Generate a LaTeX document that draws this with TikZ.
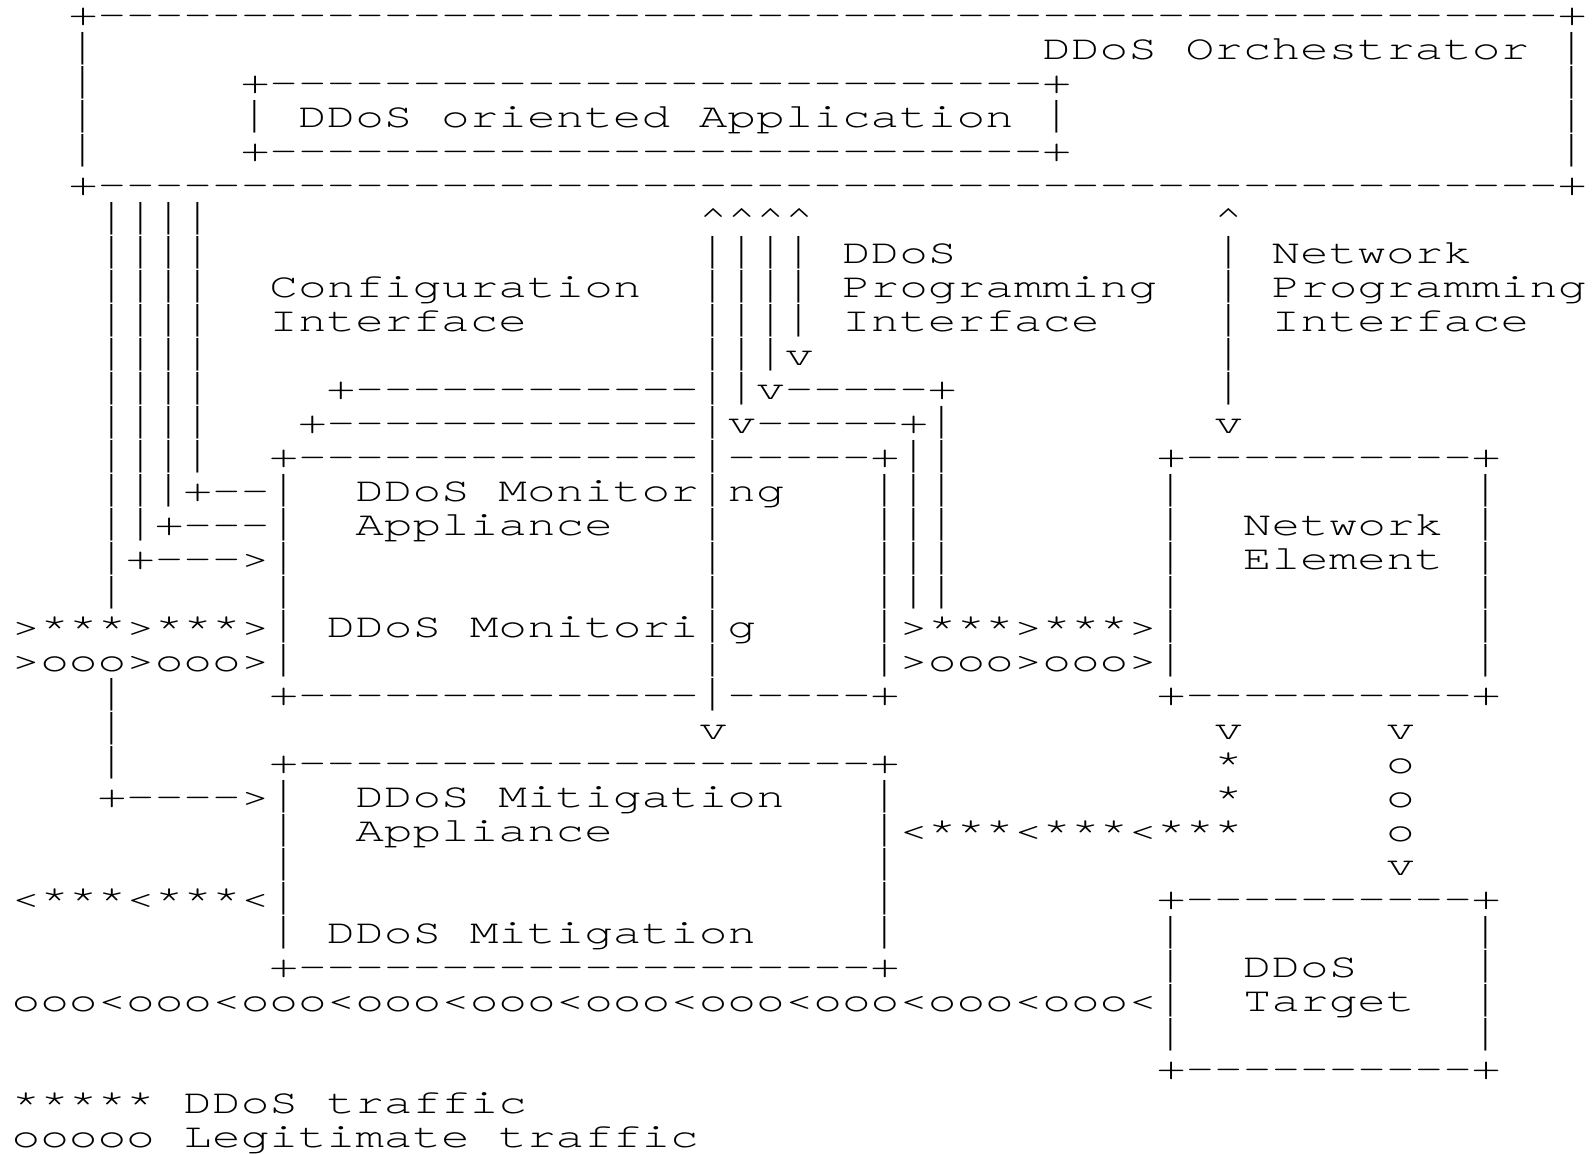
\documentclass[tikz,border=0pt]{standalone}
\usepackage{graphicx}
\usepackage{fontspec}
\newfontfamily\asc{texgyrecursor-regular}[Extension=.otf,Ligatures={TeXOff,CommonOff}]
\ExplSyntaxOn
\tl_new:N \g_asrow_tl
\NewDocumentCommand\asDash{m}{\prg_replicate:nn{#1}{-}}
\NewDocumentCommand\asSpace{m}{\prg_replicate:nn{#1}{\hphantom{-}}}
\cs_new_protected:Npn \asBar {
  \hbox_set:Nn \l_tmpa_box {|}
  \fp_set:Nn \l_tmpa_fp { 45.26pt / ( \box_ht:N \l_tmpa_box + \box_dp:N \l_tmpa_box ) }
  \dim_set:Nn \l_tmpa_dim { \fp_to_dim:n { \l_tmpa_fp * \box_dp:N \l_tmpa_box } - 8.06pt }
  \tl_set:Nx \l_tmpb_tl { \fp_to_decimal:N \l_tmpa_fp }
  \raisebox{\l_tmpa_dim}{\scalebox{1}[\l_tmpb_tl]{|}}
}
\NewDocumentCommand\asfix{m}{
  \tl_gset:Nn \g_asrow_tl {#1}
  \tl_greplace_all:Nnn \g_asrow_tl {|} {\asBar}
}
\cs_new:Npn \asrowtext {\g_asrow_tl}
\ExplSyntaxOff
\newcommand\Up{\char"5E\relax}
\tikzset{
  asline/.style={anchor=base west, inner sep=0pt, outer sep=0pt,
    font=\asc\fontsize{47.72}{47.72}\selectfont}
}
\newcommand\asrow[3]{\asfix{#3}\node[asline] (#1) at (11.7,{25.5+34.0*#2}) {\scalebox{1}[0.72]{\asrowtext}};}
\begin{document}
\begin{tikzpicture}[x=1pt,y=-1pt]
\fill[white] (0,0) rectangle (1596,1154);
\useasboundingbox (0,0) rectangle (1596,1154);
\asrow{r0}{0}{\asSpace{2}+\asDash{51}+}
\asrow{r1}{1}{\asSpace{2}|\asSpace{33}DDoS Orchestrator\asSpace{1}|}
\asrow{r2}{2}{\asSpace{2}|\asSpace{5}+\asDash{27}+\asSpace{17}|}
\asrow{r3}{3}{\asSpace{2}|\asSpace{5}|\asSpace{1}DDoS oriented Application\asSpace{1}|\asSpace{17}|}
\asrow{r4}{4}{\asSpace{2}|\asSpace{5}+\asDash{27}+\asSpace{17}|}
\asrow{r5}{5}{\asSpace{2}+\asDash{51}+}
\asrow{r6}{6}{\asSpace{3}||||\asSpace{17}\Up\Up\Up\Up\asSpace{14}\Up}
\asrow{r7}{7}{\asSpace{3}||||\asSpace{17}||||\asSpace{1}DDoS\asSpace{9}|\asSpace{1}Network}
\asrow{r8}{8}{\asSpace{3}||||\asSpace{2}Configuration\asSpace{2}||||\asSpace{1}Programming\asSpace{2}|\asSpace{1}Programming}
\asrow{r9}{9}{\asSpace{3}||||\asSpace{2}Interface\asSpace{6}||||\asSpace{1}Interface\asSpace{4}|\asSpace{1}Interface}
\asrow{r10}{10}{\asSpace{3}||||\asSpace{17}|||v\asSpace{14}|}
\asrow{r11}{11}{\asSpace{3}||||\asSpace{4}+\asDash{12}||v\asDash{5}+\asSpace{9}|}
\asrow{r12}{12}{\asSpace{3}||||\asSpace{3}+\asDash{13}|v\asDash{5}+|\asSpace{9}v}
\asrow{r13}{13}{\asSpace{3}||||\asSpace{2}+\asDash{14}|\asDash{5}+||\asSpace{7}+\asDash{10}+}
\asrow{r14}{14}{\asSpace{3}|||+--|\asSpace{2}DDoS Monitor|ng\asSpace{3}|||\asSpace{7}|\asSpace{10}|}
\asrow{r15}{15}{\asSpace{3}||+---|\asSpace{2}Appliance\asSpace{3}|\asSpace{5}|||\asSpace{7}|\asSpace{2}Network\asSpace{1}|}
\asrow{r16}{16}{\asSpace{3}|+--->|\asSpace{14}|\asSpace{5}|||\asSpace{7}|\asSpace{2}Element\asSpace{1}|}
\asrow{r17}{17}{\asSpace{3}|\asSpace{5}|\asSpace{14}|\asSpace{5}|||\asSpace{7}|\asSpace{10}|}
\asrow{r18}{18}{>***>***>|\asSpace{1}DDoS Monitori|g\asSpace{4}|>***>***>|\asSpace{10}|}
\asrow{r19}{19}{>ooo>ooo>|\asSpace{14}|\asSpace{5}|>ooo>ooo>|\asSpace{10}|}
\asrow{r20}{20}{\asSpace{3}|\asSpace{5}+\asDash{14}|\asDash{5}+\asSpace{9}+\asDash{10}+}
\asrow{r21}{21}{\asSpace{3}|\asSpace{20}v\asSpace{17}v\asSpace{5}v}
\asrow{r22}{22}{\asSpace{3}|\asSpace{5}+\asDash{20}+\asSpace{11}*\asSpace{5}o}
\asrow{r23}{23}{\asSpace{3}+---->|\asSpace{2}DDoS Mitigation\asSpace{3}|\asSpace{11}*\asSpace{5}o}
\asrow{r24}{24}{\asSpace{9}|\asSpace{2}Appliance\asSpace{9}|<***<***<***\asSpace{5}o}
\asrow{r25}{25}{\asSpace{9}|\asSpace{20}|\asSpace{17}v}
\asrow{r26}{26}{<***<***<|\asSpace{20}|\asSpace{9}+\asDash{10}+}
\asrow{r27}{27}{\asSpace{9}|\asSpace{1}DDoS Mitigation\asSpace{4}|\asSpace{9}|\asSpace{10}|}
\asrow{r28}{28}{\asSpace{9}+\asDash{20}+\asSpace{9}|\asSpace{2}DDoS\asSpace{4}|}
\asrow{r29}{29}{ooo<ooo<ooo<ooo<ooo<ooo<ooo<ooo<ooo<ooo<|\asSpace{2}Target\asSpace{2}|}
\asrow{r30}{30}{\asSpace{40}|\asSpace{10}|}
\asrow{r31}{31}{\asSpace{40}+\asDash{10}+}
\asrow{r32}{32}{***** DDoS traffic}
\asrow{r33}{33}{ooooo Legitimate traffic}
\end{tikzpicture}
\end{document}
